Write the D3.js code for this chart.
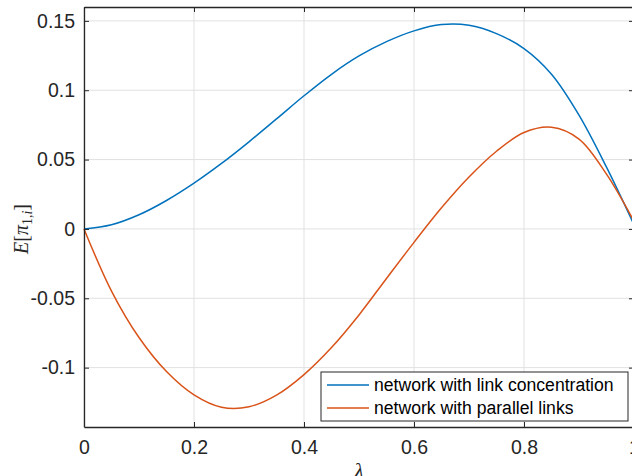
<!DOCTYPE html>
<html><head><meta charset="utf-8">
<script src="https://cdn.jsdelivr.net/npm/d3@7"></script>
<style>html,body{margin:0;padding:0;background:#fff;overflow:hidden}</style>
</head><body>
<svg id="c" width="632" height="476"></svg>
<script>
const lambdaVals = [0,0.05,0.1,0.15,0.2,0.25,0.3,0.35,0.4,0.45,0.5,0.55,0.6,0.65,0.7,0.75,0.8,0.85,0.9,0.95,1.0];
const concentration = [0,0.003,0.0102,0.0205,0.033,0.0472,0.0628,0.0793,0.0960,0.1115,0.1247,0.1350,0.1428,0.1473,0.1468,0.1408,0.1300,0.1115,0.0820,0.0445,0.003];
const parallel = [0,-0.0448,-0.0783,-0.1028,-0.1196,-0.1285,-0.1282,-0.1198,-0.105,-0.0855,-0.062,-0.0357,-0.0097,0.0152,0.0374,0.056,0.0695,0.0733,0.0648,0.0395,0.0055];
const xTicks = [0,0.2,0.4,0.6,0.8,1];
const yTicks = [-0.1,-0.05,0,0.05,0.1,0.15];
const seriesNames = ["network with link concentration","network with parallel links"];
const seriesColors = ["#0072BD","#D95319"];

const svg = d3.select("#c");
const x = d3.scaleLinear().domain([0,1]).range([84,634]);
const y = d3.scaleLinear().domain([-0.1428,0.16]).range([427,7]);
const fmt = v => v===0 ? "0" : String(v);

// grid
svg.append("g").selectAll("line").data(xTicks).join("line")
  .attr("x1",d=>x(d)).attr("x2",d=>x(d)).attr("y1",7).attr("y2",427)
  .attr("stroke","#e1e1e1").attr("stroke-width",1);
svg.append("g").selectAll("line").data(yTicks).join("line")
  .attr("x1",84).attr("x2",634).attr("y1",d=>y(d)).attr("y2",d=>y(d))
  .attr("stroke","#e1e1e1").attr("stroke-width",1);

// lines
const line = d3.line().x((d,i)=>x(lambdaVals[i])).y(d=>y(d)).curve(d3.curveCatmullRom.alpha(0.5));
[concentration, parallel].forEach((s,k)=>{
  svg.append("path").attr("d",line(s)).attr("fill","none")
    .attr("stroke",seriesColors[k]).attr("stroke-width",1.5);
});

// axes
const axB = d3.axisBottom(x).tickValues(xTicks).tickFormat(fmt).tickSizeInner(-5).tickSizeOuter(0).tickPadding(13);
const axL = d3.axisLeft(y).tickValues(yTicks).tickFormat(fmt).tickSizeInner(-5).tickSizeOuter(0).tickPadding(9);
const axT = d3.axisTop(x).tickValues(xTicks).tickFormat("").tickSizeInner(-5).tickSizeOuter(0);
const axR = d3.axisRight(y).tickValues(yTicks).tickFormat("").tickSizeInner(-5).tickSizeOuter(0);
function style(g){
  g.selectAll("path.domain").attr("stroke","#262626").attr("stroke-width",1.3);
  g.selectAll(".tick line").attr("stroke","#262626").attr("stroke-width",1);
  g.selectAll(".tick text").attr("fill","#262626").style("font-family","'Liberation Sans',Arial,sans-serif").style("font-size","19.5px");
}
svg.append("g").attr("transform","translate(0,427)").call(axB).call(style);
svg.append("g").attr("transform","translate(84,0)").call(axL).call(style);
svg.append("g").attr("transform","translate(0,7)").call(axT).call(style);
svg.append("g").attr("transform","translate(634,0)").call(axR).call(style);

// axis labels
svg.append("text").attr("x",359).attr("y",478).attr("text-anchor","middle")
  .style("font-family","'Liberation Serif','DejaVu Serif',serif").style("font-style","italic").style("font-size","22px")
  .attr("fill","#262626").text("λ");
const yl = svg.append("text").attr("transform","translate(28,229) rotate(-90)").attr("text-anchor","middle")
  .style("font-family","'Liberation Serif','DejaVu Serif',serif").style("font-size","20px").attr("fill","#262626");
yl.append("tspan").style("font-style","italic").text("E");
yl.append("tspan").text("[");
yl.append("tspan").style("font-style","italic").text("π");
yl.append("tspan").attr("dy",4).style("font-size","14px").text("1,");
yl.append("tspan").style("font-size","14px").style("font-style","italic").text("i");
yl.append("tspan").attr("dy",-4).text("]");

// legend
const lg = svg.append("g");
lg.append("rect").attr("x",321).attr("y",372).attr("width",307).attr("height",49)
  .attr("fill","#fff").attr("stroke","#262626").attr("stroke-width",1);
seriesNames.forEach((n,k)=>{
  const cy = 385 + k*23;
  lg.append("line").attr("x1",327).attr("x2",369).attr("y1",cy).attr("y2",cy)
    .attr("stroke",seriesColors[k]).attr("stroke-width",1.5);
  lg.append("text").attr("x",374).attr("y",cy).attr("dy","0.35em")
    .style("font-family","'Liberation Sans',Arial,sans-serif").style("font-size","17.6px")
    .attr("fill","#000").text(n);
});
</script>
</body></html>
